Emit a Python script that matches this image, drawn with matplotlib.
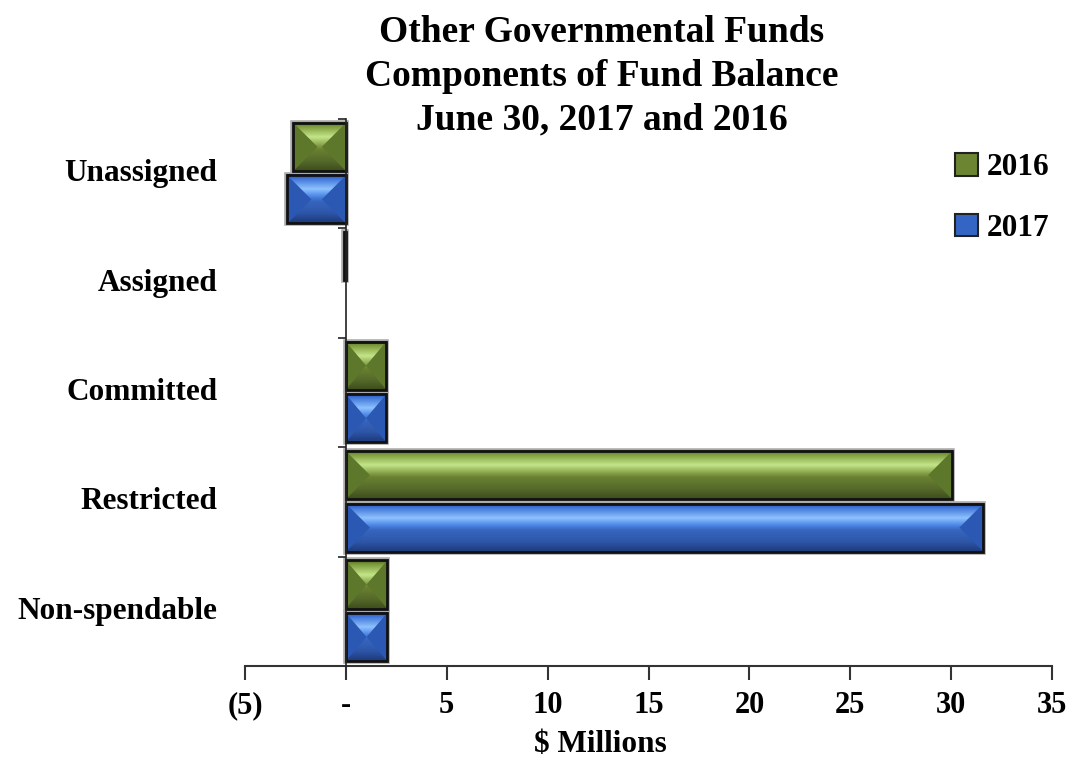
import numpy as np
import matplotlib
matplotlib.use("Agg")
import matplotlib.pyplot as plt
from matplotlib.colors import to_rgb
from matplotlib.patches import Rectangle, Polygon, Patch

plt.rcParams['font.family'] = ['Liberation Serif', 'DejaVu Serif']
plt.rcParams['font.weight'] = 'bold'

# data ($ millions), categories listed top to bottom
categories = ['Unassigned', 'Assigned', 'Committed', 'Restricted', 'Non-spendable']
vals_2016 = [-2.6, -0.1, 2.0, 30.05, 2.05]
vals_2017 = [-2.9, 0.0, 2.0, 31.6, 2.05]
xticks = [-5, 0, 5, 10, 15, 20, 25, 30, 35]
xtick_labels = ['(5)', '-', '5', '10', '15', '20', '25', '30', '35']

# gradient stops, top of bar -> bottom of bar
green = dict(stops=[0.0, 0.08, 0.3, 0.45, 0.55, 0.8, 1.0],
             cols=['#556b25', '#7a9a3a', '#c5e58a', '#8daa50', '#6a8232', '#55692a', '#3e4d1c'],
             side='#5d772b', base='#6b8532')
blue = dict(stops=[0.0, 0.08, 0.3, 0.45, 0.55, 0.8, 1.0],
            cols=['#22489a', '#3c72d6', '#8ec2ff', '#4d86e6', '#3766c0', '#2d56a8', '#1e3a7a'],
            side='#2b58b2', base='#3565c4')

W, H, DPI = 10.7, 7.6, 100
fig = plt.figure(figsize=(W, H), dpi=DPI)
ax = fig.add_axes([245 / 1070, 1 - 666 / 760, (1052 - 245) / 1070, (666 - 119) / 760])

x_lo, x_hi = -5, 35
ax.set_xlim(x_lo, x_hi)
ax.set_ylim(len(categories) - 0.5, -0.5)

px_x = (1052 - 245) / (x_hi - x_lo)
px_y = (666 - 119) / len(categories)


def gradient_img(style, n=60):
    t = np.linspace(0, 1, n)
    rgb = np.array([to_rgb(c) for c in style['cols']])
    img = np.stack([np.interp(t, style['stops'], rgb[:, k]) for k in range(3)], axis=-1)
    return np.repeat(img[:, None, :], 2, axis=1)


def bevel_bar(y, v, h, style):
    if v == 0:
        return
    x0, x1 = min(0, v), max(0, v)
    top, bot = y - h / 2, y + h / 2
    ax.imshow(gradient_img(style), extent=(x0, x1, bot, top), origin='upper',
              aspect='auto', interpolation='bilinear', zorder=2)
    d = min((h / 2) * px_y / px_x, (x1 - x0) / 2)
    ax.add_patch(Polygon([(x0, top), (x0 + d, y), (x0, bot)], closed=True,
                         facecolor=style['side'], edgecolor='none', zorder=3))
    ax.add_patch(Polygon([(x1, top), (x1 - d, y), (x1, bot)], closed=True,
                         facecolor=style['side'], edgecolor='none', zorder=3))
    ax.add_patch(Rectangle((x0, top), x1 - x0, h, facecolor='none',
                           edgecolor='#aaaaaa', lw=4, zorder=1.5))
    ax.add_patch(Rectangle((x0, top), x1 - x0, h, facecolor='none',
                           edgecolor='#111111', lw=2, zorder=4))


bar_h = 0.44
for i in range(len(categories)):
    bevel_bar(i - 0.245, vals_2016[i], bar_h, green)
    bevel_bar(i + 0.235, vals_2017[i], bar_h, blue)

ax.set_xlim(x_lo, x_hi)
ax.set_ylim(len(categories) - 0.5, -0.5)

# spines
for s in ['top', 'right']:
    ax.spines[s].set_visible(False)
ax.spines['left'].set_position(('data', 0))
ax.spines['left'].set_color('#222222')
ax.spines['left'].set_linewidth(1.2)
ax.spines['left'].set_zorder(5)
ax.spines['bottom'].set_color('#333333')
ax.spines['bottom'].set_linewidth(1.5)

ax.set_yticks(np.arange(-0.5, len(categories), 1.0))
ax.set_yticklabels([])
ax.tick_params(axis='y', length=6, width=1.2, color='#222222')

ax.set_xticks(xticks)
ax.set_xticklabels(xtick_labels)
ax.tick_params(axis='x', length=10, width=1.5, color='#333333', pad=8,
               labelsize=22)

for i, c in enumerate(categories):
    ax.text(-0.034, i, c, transform=ax.get_yaxis_transform(), ha='right',
            va='center', fontsize=22.5, fontweight='bold')

fig.text(602 / 1070, 1 - 76 / 760,
         'Other Governmental Funds\nComponents of Fund Balance\nJune 30, 2017 and 2016',
         ha='center', va='center', fontsize=27, fontweight='bold', linespacing=1.32)
fig.text(600 / 1070, 1 - 744 / 760, '$ Millions', ha='center', va='center',
         fontsize=22.5, fontweight='bold')

handles = [Patch(facecolor=green['base'], edgecolor='#222222', lw=1.5),
           Patch(facecolor=blue['base'], edgecolor='#222222', lw=1.5)]
fig.legend(handles, ['2016', '2017'], loc='upper left',
           bbox_to_anchor=(955 / 1070, 1 - 153 / 760), frameon=False,
           fontsize=22.5, handlelength=0.75, handleheight=0.75, handletextpad=0.25,
           labelspacing=1.0, borderpad=0, borderaxespad=0)

fig.savefig('out.png', dpi=DPI)
